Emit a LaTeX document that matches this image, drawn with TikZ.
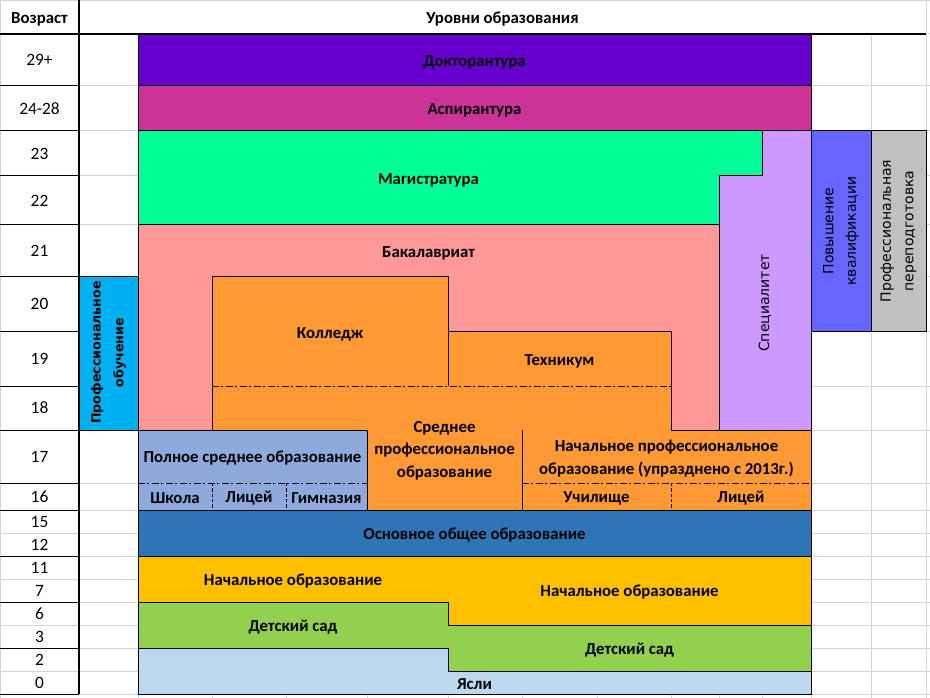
\documentclass[tikz,border=0pt]{standalone}
\usepackage{fontspec}
\setmainfont{Carlito}
\newfontfamily\sidefont{DejaVu Sans}
\usepackage{xcolor}
\definecolor{doct-col}{HTML}{6600CC}
\definecolor{asp-col}{HTML}{CC3399}
\definecolor{mag-col}{HTML}{00FF99}
\definecolor{spec-col}{HTML}{CC99FF}
\definecolor{bak-col}{HTML}{FF9999}
\definecolor{spo-col}{HTML}{FF9933}
\definecolor{full-col}{HTML}{8EA9DB}
\definecolor{basic-col}{HTML}{2E75B6}
\definecolor{prim-col}{HTML}{FFC000}
\definecolor{kind-col}{HTML}{92D050}
\definecolor{nurs-col}{HTML}{BDD7EE}
\definecolor{prof-col}{HTML}{00B0F0}
\definecolor{qual-col}{HTML}{6666FF}
\definecolor{retr-col}{HTML}{C0C0C0}
\definecolor{sheet-grid}{HTML}{D4D4D4}
\tikzset{
    level-box/.style = {draw=black, line width=0.75pt},
    level-text/.style = {font=\bfseries\fontsize{12.6}{17}\selectfont, align=center, inner sep=0pt, yshift=-1.5pt},
    age-text/.style = {font=\fontsize{13}{15}\selectfont, inner sep=0pt},
    side-text/.style = {font=\sidefont\fontsize{10.5}{17}\selectfont, align=center, rotate=90, inner sep=0pt},
    grid-line/.style = {draw=sheet-grid, line width=0.75pt},
    border-line/.style = {draw=black, line width=0.75pt},
    thick-line/.style = {draw=black, line width=1.5pt},
    dash-dot-line/.style = {draw=black, line width=0.75pt, dash pattern=on 5pt off 2pt on 1.5pt off 2pt},
    dash-line/.style = {draw=black, line width=0.75pt, dash pattern=on 2.5pt off 1.5pt},
}

\begin{document}
\begin{tikzpicture}[x=0.75pt, y=-0.75pt]
\useasboundingbox (0,0) rectangle (930,698);
\fill[white] (0,0) rectangle (930,698);
\foreach \y in {0.5,34,86,131,176,225,277,331,386,430,483,510,533,556,579,602,625,648,671,694}
    \draw[grid-line] (0,\y) -- (930,\y);
\foreach \x in {138,212,286,367,448,522,597,671,719,762,811,871}
    \draw[grid-line] (\x,34) -- (\x,698);
\foreach \x in {0.5,926}
    \draw[grid-line] (\x,0) -- (\x,698);

\draw[level-box, fill=doct-col] (138,34) rectangle (811,86);
\draw[level-box, fill=asp-col] (138,86) rectangle (811,131);
\draw[level-box, fill=mag-col] (138,131) -- (762,131) -- (762,176) -- (719,176) -- (719,225) -- (138,225) -- cycle;
\draw[level-box, fill=spec-col] (762,131) -- (811,131) -- (811,430) -- (719,430) -- (719,176) -- (762,176) -- cycle;
\draw[level-box, fill=bak-col] (138,225) rectangle (719,430);
\draw[level-box, fill=spo-col] (212,277) -- (448,277) -- (448,331) -- (671,331) -- (671,430) -- (811,430) -- (811,510) -- (367,510) -- (367,430) -- (212,430) -- cycle;
\draw[border-line] (448,331) -- (448,386);
\draw[border-line] (522,430) -- (522,510);
\draw[dash-dot-line] (212,386) -- (671,386);
\draw[dash-dot-line] (522,483) -- (811,483);
\draw[dash-line] (671,483) -- (671,510);
\draw[level-box, fill=full-col] (138,430) rectangle (367,510);
\draw[dash-dot-line] (138,483) -- (367,483);
\draw[dash-line] (212,483) -- (212,510);
\draw[dash-line] (286,483) -- (286,510);
\draw[level-box, fill=basic-col] (138,510) rectangle (811,556);
\draw[level-box, fill=prim-col] (138,556) -- (811,556) -- (811,625) -- (448,625) -- (448,602) -- (138,602) -- cycle;
\draw[level-box, fill=kind-col] (138,602) -- (448,602) -- (448,625) -- (811,625) -- (811,671) -- (448,671) -- (448,648) -- (138,648) -- cycle;
\draw[level-box, fill=nurs-col] (138,648) -- (448,648) -- (448,671) -- (811,671) -- (811,694) -- (138,694) -- cycle;
\draw[level-box, fill=prof-col] (79,277) rectangle (138,430);
\draw[level-box, fill=qual-col] (811,131) rectangle (871,331);
\draw[level-box, fill=retr-col] (871,131) rectangle (926,331);

\foreach \y in {86,131,176,225,277,331,386,430,483,510,556,602,648,694}
    \draw[border-line] (0,\y) -- (79,\y);
\draw[thick-line] (0,34) -- (926,34);
\draw[thick-line] (79,0) -- (79,694);

\node[level-text] (age-head) at (39.5,17) {Возраст};
\node[level-text] (levels-head) at (502.5,17) {Уровни образования};
\foreach \age/\y [count=\i] in {29+/60, 24-28/108.5, 23/153.5, 22/200.5, 21/251, 20/304, 19/358.5, 18/408, 17/456.5, 16/496.5, 15/521.5, 12/544.5, 11/567.5, 7/590.5, 6/613.5, 3/636.5, 2/659.5, 0/682.5}
    \node[age-text] (age-\i) at (39.5,\y) {\age};

\node[level-text] (doct) at (474.5,60) {Докторантура};
\node[level-text] (asp) at (474.5,108.5) {Аспирантура};
\node[level-text] (mag) at (428.5,178.5) {Магистратура};
\node[level-text] (bak) at (428.5,251.5) {Бакалавриат};
\node[side-text] (spec) at (765,303) {Специалитет};
\node[level-text] (college) at (330,332) {Колледж};
\node[level-text] (tech) at (559.5,359) {Техникум};
\node[level-text] (spo) at (444.5,448.5) {Среднее\\профессиональное\\образование};
\node[level-text] (npo) at (666.5,456.5) {Начальное профессиональное\\образование (упразднено с 2013г.)};
\node[level-text] (uchil) at (596.5,496.5) {Училище};
\node[level-text] (npo-lyceum) at (741,496.5) {Лицей};
\node[level-text] (full) at (252.5,456.5) {Полное среднее образование};
\node[level-text] (school) at (175,496.5) {Школа};
\node[level-text] (lyceum) at (249,496.5) {Лицей};
\node[level-text] (gymn) at (326.5,496.5) {Гимназия};
\node[level-text] (basic) at (474.5,533) {Основное общее образование};
\node[level-text] (prim-left) at (293,579) {Начальное образование};
\node[level-text] (prim-right) at (629.5,590.5) {Начальное образование};
\node[level-text] (kind-left) at (293,625) {Детский сад};
\node[level-text] (kind-right) at (629.5,648) {Детский сад};
\node[level-text] (nurs) at (474.5,682.5) {Ясли};
\node[side-text, font=\sidefont\bfseries\fontsize{9.5}{17}\selectfont] (prof) at (108.5,352.5) {Профессиональное\\обучение};
\node[side-text] (qual) at (841,231) {Повышение\\квалификации};
\node[side-text] (retr) at (898.5,231) {Профессиональная\\переподготовка};
\end{tikzpicture}
\end{document}
